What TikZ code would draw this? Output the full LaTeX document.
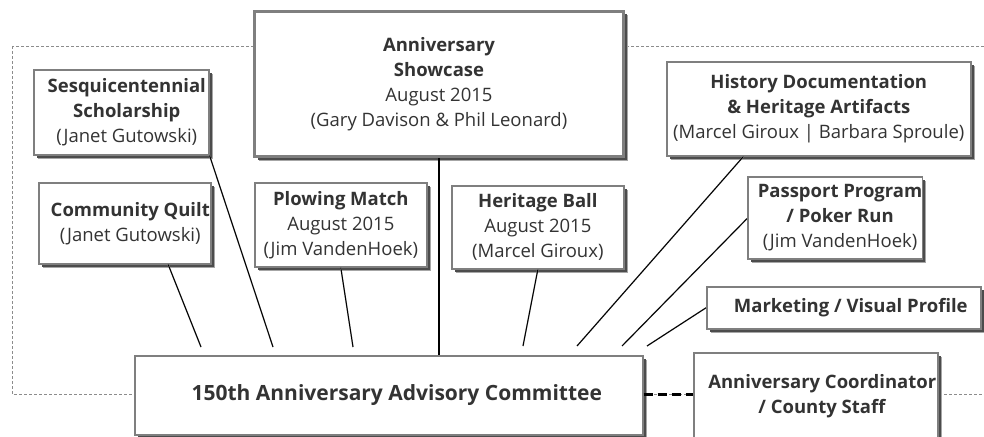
\documentclass[tikz,border=0pt]{standalone}
\usepackage{fontspec}
\setmainfont{Open Sans}
\usetikzlibrary{calc}
\definecolor{txt}{HTML}{333333}
\definecolor{bord}{HTML}{7F7F7F}
\tikzset{
  box/.style={draw=bord, line width=1.6pt, fill=white, inner sep=0pt,
    align=center, text=txt, anchor=north west,
    font=\fontsize{18.5}{25}\selectfont,
    preaction={fill=black!35, transform canvas={shift={(4pt,-4pt)}}},
    preaction={fill=black!70, transform canvas={shift={(3pt,-3pt)}}}},
  bigbox/.style={box, line width=3pt},
  conn/.style={draw=black, line width=1pt},
  connshadow/.style={draw=black!35, line width=1.4pt},
  outline/.style={draw=black!45, line width=0.8pt, dash pattern=on 3pt off 2pt},
  thickdash/.style={draw=black, line width=3pt, dash pattern=on 9pt off 5pt}
}
\begin{document}
\begin{tikzpicture}[x=1pt,y=-1pt]
\useasboundingbox (0,0) rectangle (984,436);
\draw[outline] (12,46) rectangle (1000,394);

\node[bigbox, minimum width=369pt, minimum height=145pt] (show) at (253,10)
  {\textbf{Anniversary}\\\textbf{Showcase}\\August 2015\\(Gary Davison \& Phil Leonard)};
\node[box, minimum width=175pt, minimum height=85pt] (sesq) at (33,69)
  {\hspace*{11pt}\textbf{Sesquicentennial}\\\hspace*{11pt}\textbf{Scholarship}\\\hspace*{11pt}(Janet Gutowski)};
\node[box, minimum width=172pt, minimum height=81pt] (quilt) at (38,182)
  {\hspace*{11pt}\textbf{Community Quilt}\\\hspace*{11pt}(Janet Gutowski)};
\node[box, minimum width=172pt, minimum height=84pt] (plow) at (254,182)
  {\textbf{Plowing Match}\\August 2015\\(Jim VandenHoek)};
\node[box, minimum width=172pt, minimum height=83pt] (ball) at (451,185)
  {\textbf{Heritage Ball}\\August 2015\\(Marcel Giroux)};
\node[box, minimum width=304pt, minimum height=94pt] (hist) at (666,61)
  {\textbf{History Documentation}\\\textbf{\& Heritage Artifacts}\\(Marcel Giroux | Barbara Sproule)};
\node[box, minimum width=172pt, minimum height=82pt] (pass) at (747,176)
  {\hspace*{10pt}\textbf{Passport Program}\\\hspace*{10pt}\textbf{/ Poker Run}\\\hspace*{10pt}(Jim VandenHoek)};
\node[box, minimum width=274pt, minimum height=42pt] (mark) at (706,286)
  {\hspace*{14pt}\textbf{Marketing / Visual Profile}};
\node[box, minimum width=508pt, minimum height=79pt, font=\fontsize{21}{25}\selectfont] (main) at (134,355)
  {\hspace*{16pt}\textbf{150th Anniversary Advisory Committee}};
\node[box, minimum width=244pt, minimum height=86pt] (coord) at (693,352)
  {\hspace*{13pt}\textbf{Anniversary Coordinator}\\\hspace*{13pt}\textbf{/ County Staff}};

\coordinate (e1) at (201,347);
\coordinate (e2) at (273,347);
\coordinate (e3) at (353,347);
\coordinate (e4) at (523,346);
\coordinate (e5) at (577,346);
\coordinate (e6) at (622,346);
\coordinate (e7) at (647,346);

\begin{scope}[shift={(1.4pt,-1.4pt)}]
\draw[connshadow] ($(quilt.south west)!0.75!(quilt.south east)$) -- (e1);
\draw[connshadow] (sesq.south east) -- (e2);
\draw[connshadow] (plow.south) -- (e3);
\draw[connshadow] (ball.south) -- (e4);
\draw[connshadow] ($(hist.south west)!0.253!(hist.south east)$) -- (e5);
\draw[connshadow] ($(pass.north west)!0.51!(pass.south west)$) -- (e6);
\draw[connshadow] (mark.west) -- (e7);
\end{scope}
\draw[conn] ($(quilt.south west)!0.75!(quilt.south east)$) -- (e1);
\draw[conn] (sesq.south east) -- (e2);
\draw[conn] (plow.south) -- (e3);
\draw[conn] (ball.south) -- (e4);
\draw[conn] ($(hist.south west)!0.253!(hist.south east)$) -- (e5);
\draw[conn] ($(pass.north west)!0.51!(pass.south west)$) -- (e6);
\draw[conn] (mark.west) -- (e7);
\draw[draw=black, line width=2pt] (show.south) -- (show.south |- main.north);
\draw[thickdash] (main.east |- 0,394) -- (coord.west |- 0,394);
\end{tikzpicture}
\end{document}
